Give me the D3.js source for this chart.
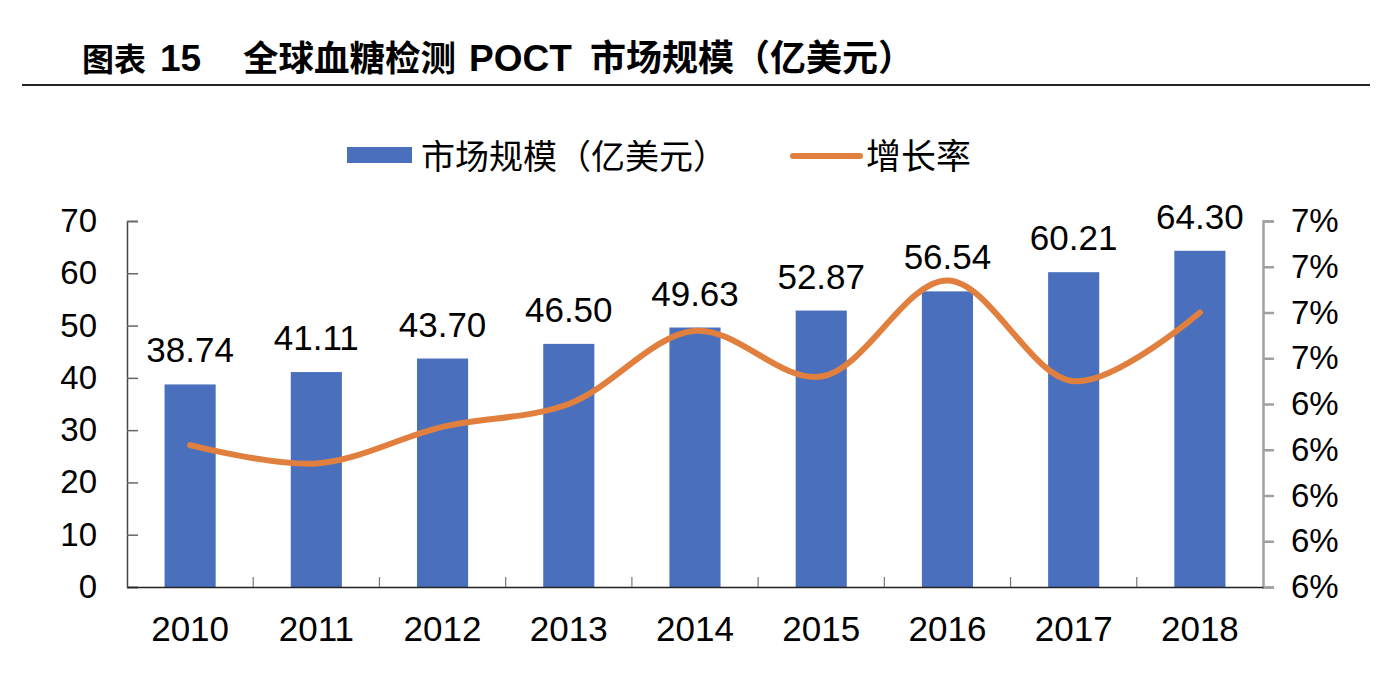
<!DOCTYPE html>
<html>
<head>
<meta charset="utf-8">
<script src="https://d3js.org/d3.v7.min.js"></script>
<style>
  html, body { margin: 0; padding: 0; background: #fff; }
  svg { display: block; }
</style>
</head>
<body>
<svg id="chart" width="1392" height="684"></svg>
<script>
// ---- data ----
const years = ["2010","2011","2012","2013","2014","2015","2016","2017","2018"];
const marketSize = [38.74, 41.11, 43.70, 46.50, 49.63, 52.87, 56.54, 60.21, 64.30];
const growthRate = [6.31, 6.27, 6.35, 6.40, 6.56, 6.46, 6.67, 6.45, 6.60]; // percent
const leftTicks = [0, 10, 20, 30, 40, 50, 60, 70];
const rightTicks = [6.0, 6.1, 6.2, 6.3, 6.4, 6.5, 6.6, 6.7, 6.8];
const seriesNames = ["市场规模（亿美元）", "增长率"];

const numFont = "'Liberation Sans', Arial, sans-serif";
const cjkFont = "'Noto Sans CJK SC', 'Liberation Sans', sans-serif";
const barColor = "#4A70BD";
const lineColor = "#E07F3E";

const svg = d3.select("#chart");

// ---- title ----
const title = svg.append("g").attr("font-weight", 700).attr("fill", "#000");
title.append("text").attr("x", 82).attr("y", 71).attr("font-family", cjkFont).attr("font-size", 32).text("图表");
title.append("text").attr("x", 160).attr("y", 71).attr("font-family", numFont).attr("font-size", 37).text("15");
title.append("text").attr("x", 243).attr("y", 71).attr("font-family", cjkFont).attr("font-size", 35.5).text("全球血糖检测");
title.append("text").attr("x", 469).attr("y", 71).attr("font-family", numFont).attr("font-size", 37).text("POCT");
title.append("text").attr("x", 590).attr("y", 71).attr("font-family", cjkFont).attr("font-size", 36).text("市场规模（亿美元）");
svg.append("line").attr("x1", 22).attr("x2", 1370).attr("y1", 85).attr("y2", 85)
  .attr("stroke", "#222").attr("stroke-width", 2);

// ---- scales ----
const plot = { left: 127, right: 1263, top: 221, bottom: 587 };
const x = d3.scaleBand().domain(years).range([plot.left, plot.right]).padding(0);
const y = d3.scaleLinear().domain([0, 70]).range([plot.bottom, plot.top]);
const y2 = d3.scaleLinear().domain([6.0, 6.8]).range([plot.bottom, plot.top]);
const barW = x.bandwidth() * 0.405;

// ---- bars ----
svg.append("g").selectAll("rect").data(years).join("rect")
  .attr("x", (d) => x(d) + x.bandwidth() / 2 - barW / 2)
  .attr("y", (d, i) => y(marketSize[i]))
  .attr("width", barW)
  .attr("height", (d, i) => y(0) - y(marketSize[i]))
  .attr("fill", barColor);

// ---- data labels ----
svg.append("g").selectAll("text").data(years).join("text")
  .attr("x", (d) => x(d) + x.bandwidth() / 2)
  .attr("y", (d, i) => y(marketSize[i]) - 22)
  .attr("text-anchor", "middle")
  .attr("font-family", numFont).attr("font-size", 35).attr("fill", "#000")
  .text((d, i) => marketSize[i].toFixed(2));

// ---- left axis ----
const gl = svg.append("g").attr("transform", `translate(${plot.left},0)`)
  .call(d3.axisLeft(y).tickValues(leftTicks).tickSize(-11).tickPadding(30).tickFormat(d3.format("d")));
gl.select(".domain").attr("stroke", "#444").attr("stroke-width", 1.5);
gl.selectAll(".tick line").attr("stroke", "#666").attr("stroke-width", 1.5);
gl.selectAll(".tick text").attr("font-family", numFont).attr("font-size", 33).attr("fill", "#000");

// ---- right axis ----
const gr = svg.append("g").attr("transform", `translate(${plot.right},0)`)
  .call(d3.axisRight(y2).tickValues(rightTicks).tickSize(11).tickPadding(17)
    .tickFormat((d) => Math.round(d) + "%"));
gr.select(".domain").attr("stroke", "#A0A0A0").attr("stroke-width", 2.5);
gr.selectAll(".tick line").attr("stroke", "#A0A0A0").attr("stroke-width", 2.5);
gr.selectAll(".tick text").attr("font-family", numFont).attr("font-size", 33).attr("fill", "#000");

// ---- x axis ----
const gx = svg.append("g").attr("transform", `translate(0,${plot.bottom})`)
  .call(d3.axisBottom(x).tickSize(0).tickPadding(29));
gx.select(".domain").attr("stroke", "#222").attr("stroke-width", 1.5);
gx.selectAll(".tick text").attr("font-family", numFont).attr("font-size", 35).attr("fill", "#000");
// category boundary ticks (inward)
svg.append("g").selectAll("line").data(years.slice(1)).join("line")
  .attr("x1", (d) => x(d)).attr("x2", (d) => x(d))
  .attr("y1", plot.bottom).attr("y2", plot.bottom - 10)
  .attr("stroke", "#777").attr("stroke-width", 1.2);

// ---- growth line ----
const line = d3.line()
  .x((d, i) => x(years[i]) + x.bandwidth() / 2)
  .y((d) => y2(d))
  .curve(d3.curveCatmullRom.alpha(0.5));
svg.append("path").datum(growthRate)
  .attr("d", line)
  .attr("fill", "none").attr("stroke", lineColor).attr("stroke-width", 6)
  .attr("stroke-linecap", "round").attr("stroke-linejoin", "round");

// ---- legend ----
const lg = svg.append("g");
lg.append("rect").attr("x", 347).attr("y", 147).attr("width", 65).attr("height", 16).attr("fill", barColor);
lg.append("text").attr("x", 421).attr("y", 169).attr("font-family", cjkFont).attr("font-size", 34)
  .attr("fill", "#000").text(seriesNames[0]);
lg.append("line").attr("x1", 793).attr("x2", 860).attr("y1", 156).attr("y2", 156)
  .attr("stroke", lineColor).attr("stroke-width", 6).attr("stroke-linecap", "round");
lg.append("text").attr("x", 866).attr("y", 169).attr("font-family", cjkFont).attr("font-size", 35)
  .attr("fill", "#000").text(seriesNames[1]);
</script>
</body>
</html>
